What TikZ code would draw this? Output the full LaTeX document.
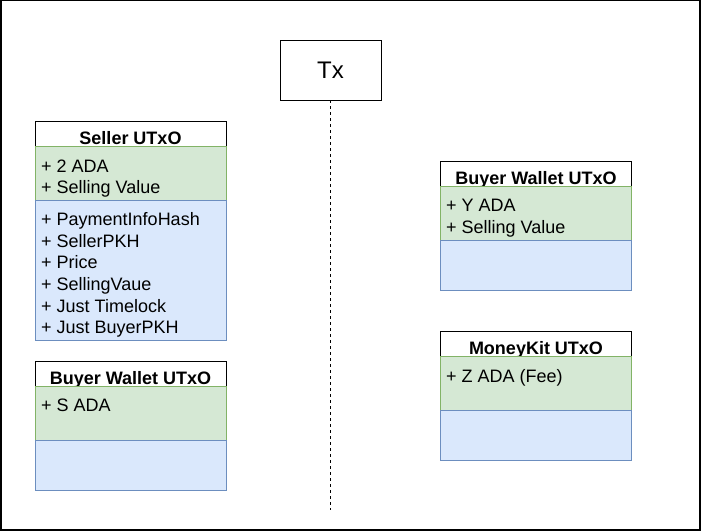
\documentclass[tikz,border=0pt]{standalone}
\usepackage{fontspec}
\setmainfont{Liberation Sans}
\usepackage{xcolor}
\usepackage{tikz}
\usetikzlibrary{positioning}

\definecolor{valuefill}{HTML}{D5E8D4}
\definecolor{valuedraw}{HTML}{82B366}
\definecolor{datumfill}{HTML}{DAE8FC}
\definecolor{datumdraw}{HTML}{6C8EBF}

\begin{document}
\begin{tikzpicture}[x=1pt, y=-1pt,
    utxo/.style={draw, anchor=north west, inner sep=0pt, outer sep=0pt, minimum width=191pt},
    header/.style={utxo, fill=white, minimum height=25pt},
    valuebox/.style={utxo, draw=valuedraw, fill=valuefill, minimum height=54pt},
    datumbox/.style={utxo, draw=datumdraw, fill=datumfill},
    headtext/.style={anchor=base, inner sep=0pt, font=\fontsize{18}{21.6}\selectfont\bfseries},
    item/.style={anchor=north west, inner sep=0pt, align=left, font=\fontsize{18}{21.6}\selectfont}]
\useasboundingbox (0,0) rectangle (701,531);
\draw[line width=1.3pt] (1,0.6) rectangle (700,530);

\node[draw, minimum width=101pt, minimum height=60pt, inner sep=0pt, font=\fontsize{24}{28}\selectfont] (tx) at (330.5,70) {Tx};
\coordinate (txEnd) at (330.5,510);
\draw[dash pattern=on 3pt off 3pt] (tx) -- (txEnd);

\node[header] (seller) at (35,121) {};
\node[headtext] (sellerTitle) at (130.5,144) {Seller UTxO};
\node[valuebox] (sellerValue) at (35,146) {};
\node[datumbox, minimum height=140pt] (sellerDatum) at (35,200) {};
\node[item] (sellerValueText) at (41,159.5) {+ 2 ADA\\+ Selling Value};
\node[item] (sellerDatumText) at (41,212.5) {+ PaymentInfoHash\\+ SellerPKH\\+ Price\\+ SellingVaue\\+ Just Timelock\\+ Just BuyerPKH};

\node[header] (buyerL) at (35,361) {};
\node[headtext] (buyerLTitle) at (130.5,384) {Buyer Wallet UTxO};
\node[valuebox] (buyerLValue) at (35,386) {};
\node[datumbox, minimum height=50pt] (buyerLDatum) at (35,440) {};
\node[item] (buyerLValueText) at (41,399) {+ S ADA};

\node[header] (buyerR) at (440.5,161) {};
\node[headtext] (buyerRTitle) at (536,184) {Buyer Wallet UTxO};
\node[valuebox] (buyerRValue) at (440.5,186) {};
\node[datumbox, minimum height=50pt] (buyerRDatum) at (440.5,240) {};
\node[item] (buyerRValueText) at (446,199) {+ Y ADA\\+ Selling Value};

\node[header] (moneykit) at (440.5,331) {};
\node[headtext] (moneykitTitle) at (536,354) {MoneyKit UTxO};
\node[valuebox] (moneykitValue) at (440.5,356) {};
\node[datumbox, minimum height=50pt] (moneykitDatum) at (440.5,410) {};
\node[item] (moneykitValueText) at (446,369) {+ Z ADA (Fee)};

\end{tikzpicture}
\end{document}
